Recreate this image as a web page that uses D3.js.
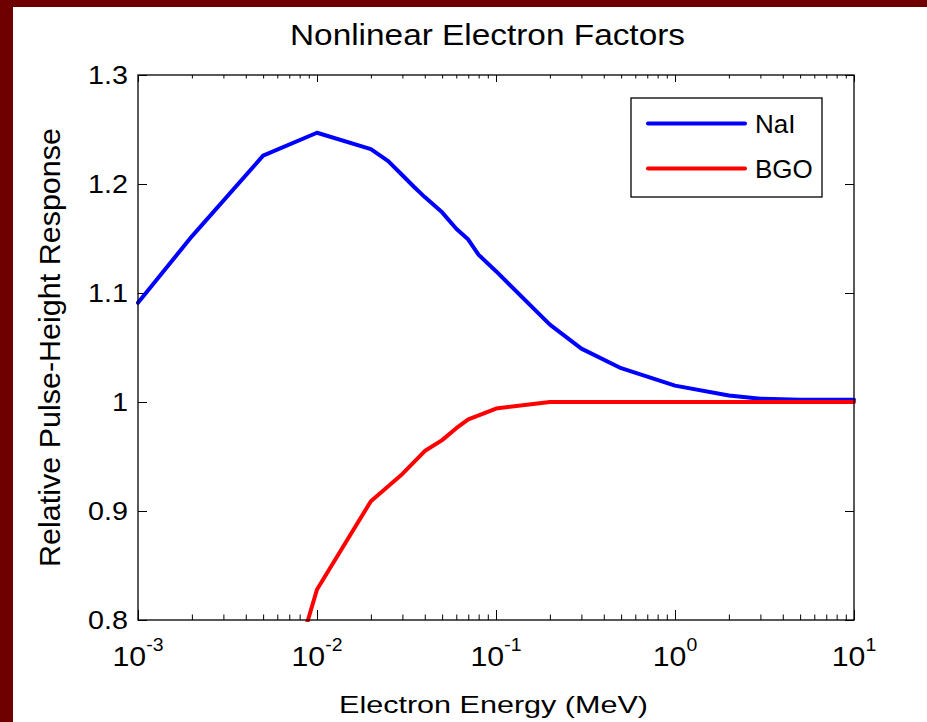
<!DOCTYPE html>
<html>
<head>
<meta charset="utf-8">
<script src="https://cdn.jsdelivr.net/npm/d3@7"></script>
<style>
  body { margin: 0; background: #fff; }
  svg { display: block; font-family: "Liberation Sans", Arial, sans-serif; }
</style>
</head>
<body>
<div id="chart"></div>
<script>
// NaI curve
const energyNaI = [0.001, 0.002, 0.005, 0.01, 0.02, 0.025, 0.03, 0.035, 0.04, 0.05, 0.06, 0.07, 0.08, 0.1, 0.2, 0.3, 0.5, 1, 2, 3, 5, 10];
const responseNaI = [1.091, 1.152, 1.226, 1.247, 1.232, 1.221, 1.208, 1.197, 1.188, 1.174, 1.159, 1.149, 1.135, 1.120, 1.071, 1.049, 1.031, 1.015, 1.006, 1.003, 1.002, 1.002];

// BGO curve
const energyBGO = [0.005, 0.01, 0.02, 0.03, 0.04, 0.05, 0.06, 0.07, 0.09, 0.1, 0.2, 0.5, 1, 2, 5, 10];
const responseBGO = [0.661, 0.828, 0.909, 0.934, 0.955, 0.965, 0.976, 0.984, 0.991, 0.994, 1.0, 1.0, 1.0, 1.0, 1.0, 1.0];

const seriesNames = ["NaI", "BGO"];
const seriesColors = ["#0000ff", "#ff0000"];

const yTickValues = [0.8, 0.9, 1.0, 1.1, 1.2, 1.3];
const yTickLabels = ["0.8", "0.9", "1", "1.1", "1.2", "1.3"];
const xTickExps = [-3, -2, -1, 0, 1];

const width = 927, height = 722;
const plotL = 138, plotR = 854, plotT = 75, plotB = 620;

let svg = d3.select('#chart')
  .append('svg')
  .attr('width', width)
  .attr('height', height);

svg.append('rect').attr('width', width).attr('height', height).attr('fill', '#fff');
// maroon frame (top + left)
svg.append('rect').attr('width', width).attr('height', 7).attr('fill', '#6f0000');
svg.append('rect').attr('width', 13).attr('height', height).attr('fill', '#6f0000');

let x = d3.scaleLog().domain([1e-3, 10]).range([plotL, plotR]);
let y = d3.scaleLinear().domain([0.8, 1.3]).range([plotB, plotT]);

// minor ticks 2..9 per decade
let minorX = [];
for (let e = -3; e < 1; e++) {
  for (let k = 2; k <= 9; k++) minorX.push(k * Math.pow(10, e));
}
let majorX = xTickExps.map(e => Math.pow(10, e));

function cleanAxis(g) {
  g.select('.domain').remove();
  g.selectAll('.tick line').attr('stroke', '#000').attr('stroke-width', 1);
  g.selectAll('.tick text').remove();
}

svg.append('g').attr('transform', `translate(0, ${plotB})`)
  .call(d3.axisBottom(x).tickValues(majorX).tickSize(-10)).call(cleanAxis);
svg.append('g').attr('transform', `translate(0, ${plotB})`)
  .call(d3.axisBottom(x).tickValues(minorX).tickSize(-5.5)).call(cleanAxis);
svg.append('g').attr('transform', `translate(0, ${plotT})`)
  .call(d3.axisTop(x).tickValues(majorX).tickSize(-7)).call(cleanAxis);
svg.append('g').attr('transform', `translate(0, ${plotT})`)
  .call(d3.axisTop(x).tickValues(minorX).tickSize(-3.5)).call(cleanAxis);
svg.append('g').attr('transform', `translate(${plotL}, 0)`)
  .call(d3.axisLeft(y).tickValues(yTickValues).tickSize(-9)).call(cleanAxis);
svg.append('g').attr('transform', `translate(${plotR}, 0)`)
  .call(d3.axisRight(y).tickValues(yTickValues).tickSize(-9)).call(cleanAxis);

// y tick labels (slightly wide, like the original render)
svg.append('g').selectAll('text')
  .data(yTickValues)
  .join('text')
  .attr('transform', d => `translate(${plotL - 10}, ${y(d) + 9}) scale(1.15, 1)`)
  .attr('text-anchor', 'end')
  .attr('font-size', 25)
  .text((d, i) => yTickLabels[i]);

// x tick labels 10^n
let xLab = svg.append('g').selectAll('text')
  .data(xTickExps)
  .join('text')
  .attr('transform', d => `translate(${x(Math.pow(10, d))}, 666) scale(1.08, 1)`)
  .attr('text-anchor', 'middle')
  .attr('font-size', 28);
xLab.append('tspan').text('10');
xLab.append('tspan').attr('font-size', 18).attr('dy', -15).text(d => d);

// clipping for data lines
svg.append('clipPath').attr('id', 'plotclip')
  .append('rect')
  .attr('x', plotL - 2).attr('y', plotT - 2)
  .attr('width', plotR - plotL + 4).attr('height', plotB - plotT + 4);

let line = d3.line().x(d => x(d[0])).y(d => y(d[1]));

let series = [
  d3.zip(energyNaI, responseNaI),
  d3.zip(energyBGO, responseBGO)
];

series.forEach((s, i) => {
  svg.append('path')
    .attr('d', line(s))
    .attr('fill', 'none')
    .attr('stroke', seriesColors[i])
    .attr('stroke-width', 4)
    .attr('stroke-linejoin', 'round')
    .attr('stroke-linecap', 'round')
    .attr('clip-path', 'url(#plotclip)');
});

// plot box
svg.append('rect')
  .attr('x', plotL).attr('y', plotT)
  .attr('width', plotR - plotL).attr('height', plotB - plotT)
  .attr('fill', 'none')
  .attr('stroke', '#000')
  .attr('stroke-width', 1.3);

// legend
let legend = svg.append('g');
legend.append('rect')
  .attr('x', 631).attr('y', 98)
  .attr('width', 191).attr('height', 99)
  .attr('fill', '#fff')
  .attr('stroke', '#000')
  .attr('stroke-width', 1.3);

seriesNames.forEach((name, i) => {
  let ly = 123.5 + i * 45;
  legend.append('line')
    .attr('x1', 648).attr('x2', 745)
    .attr('y1', ly).attr('y2', ly)
    .attr('stroke', seriesColors[i])
    .attr('stroke-width', 4)
    .attr('stroke-linecap', 'round');
  legend.append('text')
    .attr('x', 755).attr('y', ly + 9)
    .attr('font-size', 26)
    .text(name);
});

// title and axis labels
svg.append('text')
  .attr('x', 487.5).attr('y', 45)
  .attr('text-anchor', 'middle')
  .attr('font-size', 29)
  .attr('textLength', 395)
  .attr('lengthAdjust', 'spacingAndGlyphs')
  .text('Nonlinear Electron Factors');

svg.append('text')
  .attr('x', 493.5).attr('y', 713)
  .attr('text-anchor', 'middle')
  .attr('font-size', 24)
  .attr('textLength', 309)
  .attr('lengthAdjust', 'spacingAndGlyphs')
  .text('Electron Energy (MeV)');

svg.append('text')
  .attr('transform', 'translate(60, 347.5) rotate(-90)')
  .attr('text-anchor', 'middle')
  .attr('font-size', 30)
  .attr('textLength', 439)
  .attr('lengthAdjust', 'spacingAndGlyphs')
  .text('Relative Pulse-Height Response');
</script>
</body>
</html>
